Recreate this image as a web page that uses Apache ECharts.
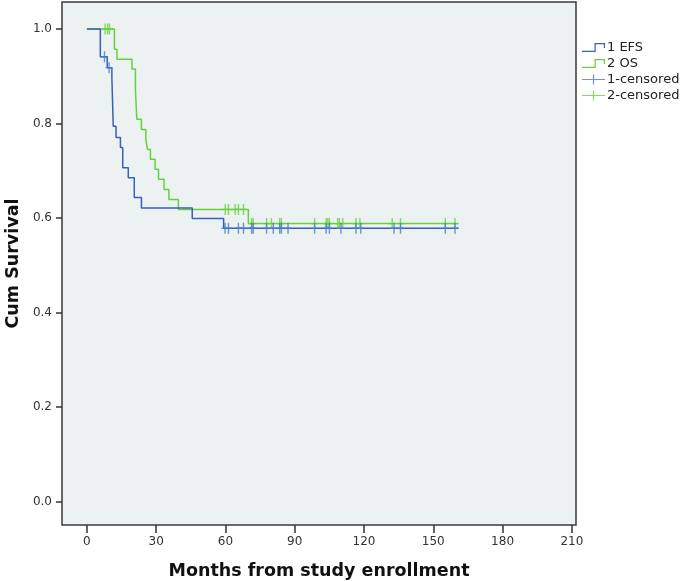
<!DOCTYPE html>
<html>
<head>
<meta charset="utf-8">
<script src="https://cdn.jsdelivr.net/npm/echarts@6/dist/echarts.min.js"></script>
<style>
  html, body { margin: 0; padding: 0; background: #ffffff; }
  #chart { width: 685px; height: 581px; }
</style>
</head>
<body>
<div id="chart"></div>
<script>
// Kaplan-Meier steps: time (months) and survival after the event
const efsTimes = [0, 5.8, 8.8, 10.8, 11.4, 12.6, 14.5, 15.5, 17.9, 20.5, 23.6, 45.6, 59.2, 160.9];
const efsSurv  = [1.0, 0.941, 0.918, 0.897, 0.794, 0.770, 0.749, 0.706, 0.685, 0.643, 0.621, 0.599, 0.578, 0.578];

const osTimes = [0, 11.9, 13.0, 19.5, 21.0, 21.6, 23.6, 25.5, 26.2, 27.5, 29.5, 31.0, 33.4, 35.5, 39.6, 69.9, 160.9];
const osSurv  = [1.0, 0.957, 0.936, 0.915, 0.872, 0.809, 0.787, 0.766, 0.745, 0.724, 0.703, 0.682, 0.660, 0.639, 0.618, 0.588, 0.588];

// censored times
const efsCensored = [7.6, 9.6, 59.8, 61.3, 65.6, 67.8, 71.3, 72.0, 77.8, 80.7, 83.5, 84.2, 87.1, 98.6, 103.6, 105.0, 110.0, 116.5, 118.6, 133.0, 135.8, 155.2, 159.4];
const osCensored  = [7.9, 9.0, 9.8, 59.9, 61.3, 64.2, 65.6, 67.8, 71.3, 72.0, 77.8, 79.9, 83.5, 84.2, 98.6, 103.6, 104.3, 105.0, 108.6, 109.3, 110.8, 116.5, 118.2, 132.2, 135.8, 155.2, 159.4];

const xTicks = [0, 30, 60, 90, 120, 150, 180, 210];
const yTicks = [0, 0.2, 0.4, 0.6, 0.8, 1.0];

const seriesNames = ['1 EFS', '2 OS', '1-censored', '2-censored'];
const blue = '#3b5fb6';
const green = '#66d23a';

// survival value of a step curve at time t
function survAt(times, surv, t) {
    let s = surv[0];
    for (let i = 0; i < times.length; i++) {
        if (times[i] <= t) s = surv[i];
    }
    return s;
}

const plusPath = 'path://M2.8,0H4.2V4.8H7V6.2H4.2V11H2.8V6.2H0V4.8H2.8Z';
const stepPath = 'path://M0,7.8H12.4V0H22.8V5H21.6V1.2H13.6V9H0Z';
const crossIcon = 'path://M0,4.4H23V5.6H0ZM10.9,0H12.1V10H10.9Z';

const chart = echarts.init(document.getElementById('chart'));

const option = {
    animation: false,
    textStyle: { fontFamily: 'DejaVu Sans' },
    grid: {
        left: 62,
        right: 109,
        top: 2,
        bottom: 56,
        outerBoundsMode: 'none',
        containLabel: false,
        show: true,
        backgroundColor: '#ecf1f1',
        borderColor: '#3a3a3a',
        borderWidth: 1.5
    },
    legend: {
        orient: 'vertical',
        left: 577,
        top: 36,
        itemGap: 3,
        itemWidth: 23,
        itemHeight: 10,
        textStyle: { fontSize: 13, color: '#222', fontFamily: 'DejaVu Sans', padding: [0, 0, 0, -3] },
        data: [
            { name: seriesNames[0], icon: stepPath },
            { name: seriesNames[1], icon: stepPath },
            { name: seriesNames[2], icon: crossIcon },
            { name: seriesNames[3], icon: crossIcon }
        ]
    },
    xAxis: {
        type: 'value',
        min: -10.8,
        max: 211.8,
        name: 'Months from study enrollment',
        nameLocation: 'middle',
        nameGap: 37,
        nameTextStyle: { fontSize: 17.5, fontWeight: 'bold', color: '#111' },
        axisLine: { show: false, onZero: false },
        splitLine: { show: false },
        axisTick: { show: true, length: 8, customValues: xTicks, lineStyle: { color: '#333', width: 1.5 } },
        axisLabel: { customValues: xTicks, margin: 11, fontSize: 12, color: '#333' }
    },
    yAxis: {
        type: 'value',
        min: -0.05,
        max: 1.057,
        name: 'Cum Survival',
        nameLocation: 'middle',
        nameGap: 37,
        nameTextStyle: { fontSize: 17.5, fontWeight: 'bold', color: '#111' },
        axisLine: { show: false, onZero: false },
        splitLine: { show: false },
        axisTick: { show: true, length: 6, customValues: yTicks, lineStyle: { color: '#333', width: 1.5 } },
        axisLabel: {
            customValues: yTicks,
            margin: 10,
            fontSize: 12,
            color: '#333',
            formatter: v => v.toFixed(1)
        }
    },
    series: [
        {
            name: seriesNames[0],
            type: 'line',
            step: 'end',
            showSymbol: false,
            color: blue,
            lineStyle: { width: 1.5, color: blue },
            data: efsTimes.map((t, i) => [t, efsSurv[i]]),
            z: 3
        },
        {
            name: seriesNames[1],
            type: 'line',
            step: 'end',
            showSymbol: false,
            color: green,
            lineStyle: { width: 1.5, color: green },
            data: osTimes.map((t, i) => [t, osSurv[i]]),
            z: 2
        },
        {
            name: seriesNames[2],
            type: 'scatter',
            symbol: plusPath,
            symbolSize: [7, 11],
            color: '#4a78d0',
            data: efsCensored.map(t => [t, survAt(efsTimes, efsSurv, t)]),
            z: 5
        },
        {
            name: seriesNames[3],
            type: 'scatter',
            symbol: plusPath,
            symbolSize: [7, 11],
            color: '#66d23a',
            data: osCensored.map(t => [t, survAt(osTimes, osSurv, t)]),
            z: 4
        }
    ]
};

chart.setOption(option);
</script>
</body>
</html>
